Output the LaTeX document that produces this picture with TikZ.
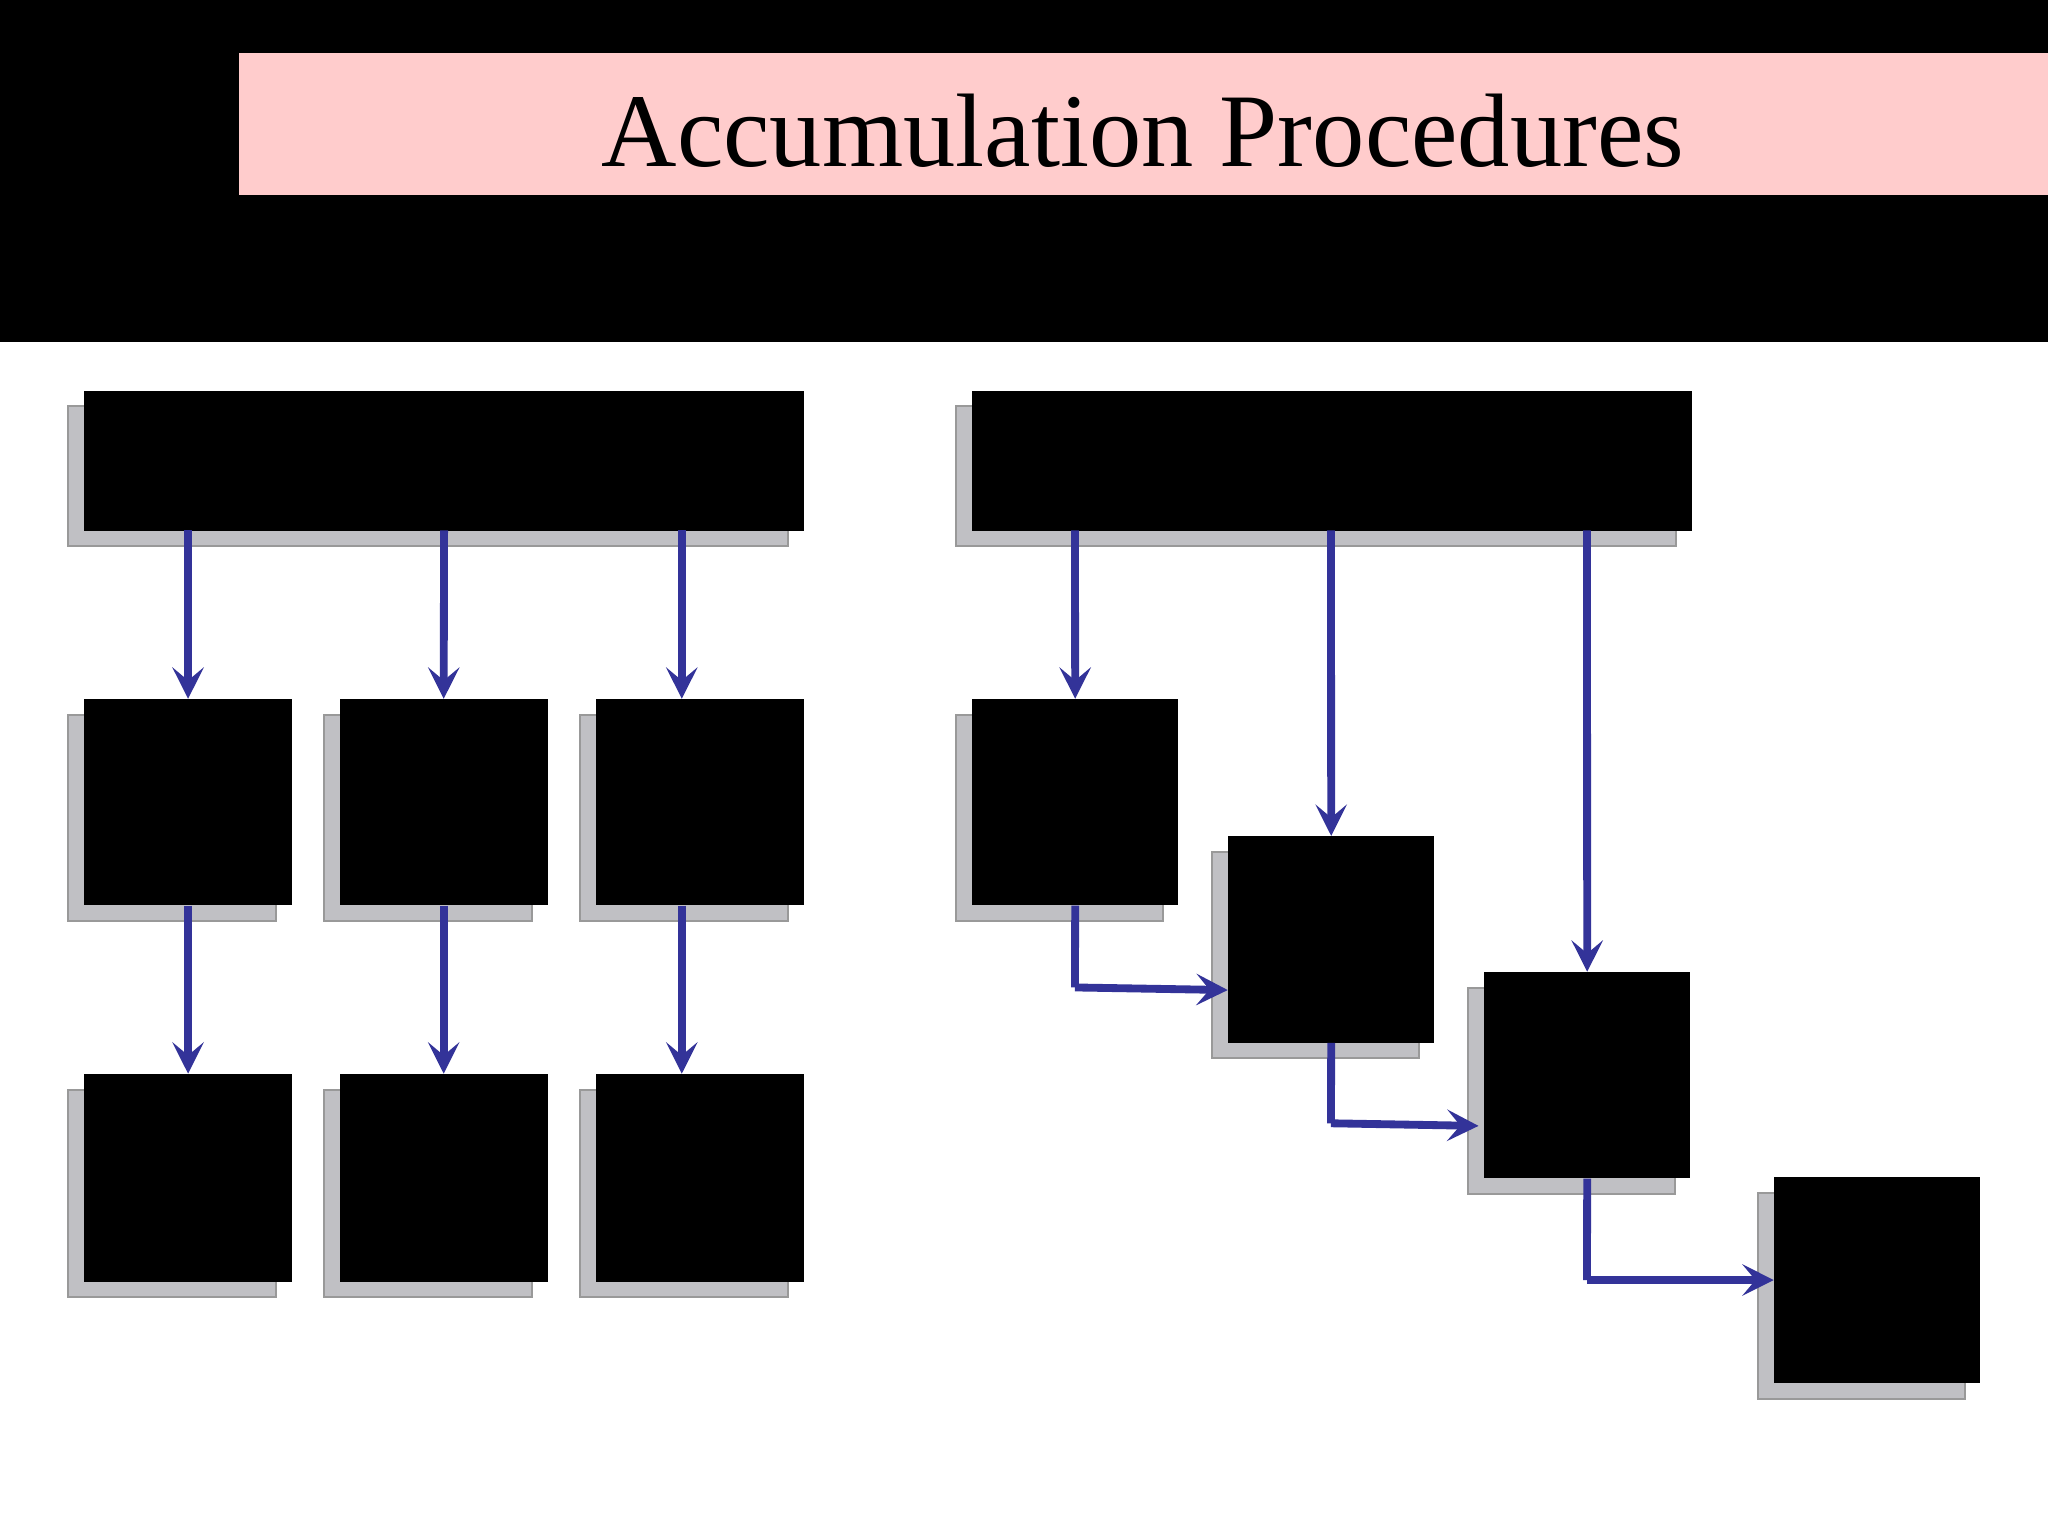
\documentclass[tikz,border=0pt]{standalone}
\usepackage{fontspec}
\setmainfont{Liberation Serif}
\usetikzlibrary{shadows,arrows.meta}
\definecolor{arrblue}{RGB}{51,51,153}
\definecolor{pinkbar}{RGB}{255,204,204}
\definecolor{shgray}{RGB}{192,192,196}
\tikzset{
  bx/.style={fill=black,draw=none,anchor=north west,inner sep=0pt,
    copy shadow={shadow xshift=-12pt,shadow yshift=-12pt,fill=shgray,draw=gray!80,line width=1.5pt}},
  arr/.style={draw=arrblue,line width=6pt,-{Stealth[length=24pt,width=24pt,inset=10pt]}},
  ln/.style={draw=arrblue,line width=6pt}
}
\begin{document}
\begin{tikzpicture}[x=1pt,y=-1pt]
\useasboundingbox (0,0) rectangle (1568,1176);
\fill[white] (0,0) rectangle (1568,1176);
\fill[black] (0,0) rectangle (1568,262);
\node[fill=pinkbar,anchor=north west,minimum width=1385pt,minimum height=109pt,inner sep=0pt] (title) at (183,40) {};
\node (tt) at (875,100) {\fontsize{80}{80}\selectfont Accumulation Procedures};
% left
\node[bx,minimum width=551pt,minimum height=107pt] (LH) at (64,299) {};
\foreach \n/\x in {1/64,2/260,3/456}{
  \node[bx,minimum width=159pt,minimum height=158pt] (L\n) at (\x,535) {};
  \node[bx,minimum width=159pt,minimum height=159pt] (M\n) at (\x,822) {};
}
\draw[arr] (144,406) -- (L1.north -| 144,0);
\draw[arr] (L1.south -| 144,0) -- (M1.north -| 144,0);
\draw[arr] (340,406) -- (L2.north);
\draw[arr] (L2.south) -- (M2.north);
\draw[arr] (522,406) -- (L3.north -| 522,0);
\draw[arr] (L3.south -| 522,0) -- (M3.north -| 522,0);
% right
\node[bx,minimum width=551pt,minimum height=107pt] (RH) at (744,299) {};
\node[bx,minimum width=158pt,minimum height=158pt] (A) at (744,535) {};
\node[bx,minimum width=158pt,minimum height=158pt] (B) at (940,640) {};
\node[bx,minimum width=158pt,minimum height=158pt] (C) at (1136,744) {};
\node[bx,minimum width=158pt,minimum height=158pt] (D) at (1358,901) {};
\draw[arr] (823,406) -- (A.north);
\draw[arr] (1019,406) -- (B.north);
\draw[arr] (1215,406) -- (C.north);
\coordinate (e1) at (823,756);
\coordinate (e2) at (1019,860);
\coordinate (e3) at (1215,980);
\draw[ln] (A.south) -- (e1);
\draw[arr] (e1) -- (940,758);
\draw[ln] (B.south) -- (e2);
\draw[arr] (e2) -- (1132,862);
\draw[ln] (C.south) -- (e3);
\draw[arr] (e3) -- (D.west |- e3);
\end{tikzpicture}
\end{document}
